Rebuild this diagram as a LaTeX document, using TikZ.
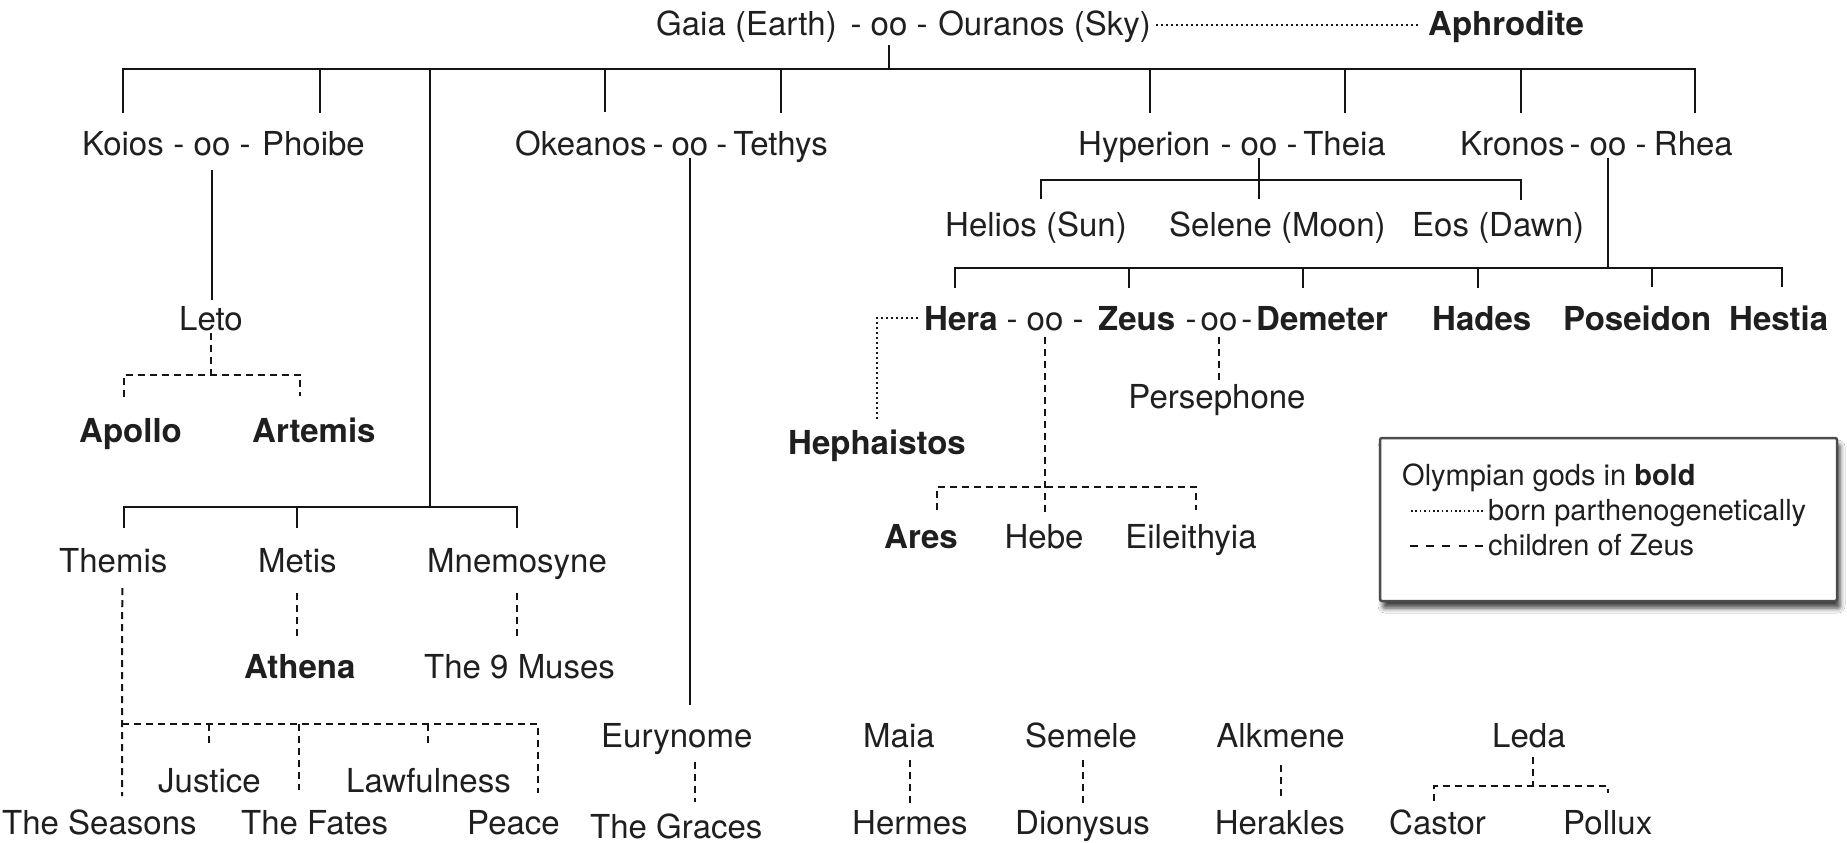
\documentclass[tikz,border=0pt]{standalone}
\usepackage{fontspec}
\setmainfont{TeX Gyre Heros}
\usetikzlibrary{shadows.blur}
\begin{document}
\begin{tikzpicture}[x=1pt,y=-1pt,
  txt/.style={inner sep=0pt,anchor=base west,text=black!88,font=\fontsize{33}{40}\selectfont},
  bld/.style={txt,font=\fontsize{33}{40}\selectfont\bfseries},
  mar/.style={inner sep=0pt,anchor=base,text=black!88,font=\fontsize{33}{40}\selectfont},
  lgd/.style={inner sep=0pt,anchor=base west,text=black!88,font=\fontsize{29}{35}\selectfont},
  ln/.style={line width=2pt,draw=black!92},
  dsh/.style={line width=2pt,draw=black!92,dash pattern=on 7pt off 5pt},
  dtt/.style={line width=2.2pt,draw=black!90,dash pattern=on 2pt off 3pt},
  legbox/.style={draw=black!70,line width=2.5pt,fill=white,rounded corners=2pt,inner sep=0pt,
    blur shadow={shadow xshift=3pt,shadow yshift=-7pt,shadow blur radius=5pt,shadow opacity=75}},
]
\fill[white] (0,0) rectangle (1847,843);
\useasboundingbox (0,0) rectangle (1847,843);

% ---------- row 0
\node[txt] (gaia) at (656,36) {Gaia (Earth)};
\node[mar] (m0) at (889,36) {- oo -};
\node[txt,anchor=base east] (ouranos) at (1151,36) {Ouranos (Sky)};
\node[bld] (aphro) at (1428,36) {Aphrodite};

% ---------- row 1
\node[txt] (koios) at (82,155) {Koios};
\node[mar] (m1) at (212,155) {- oo -};
\node[txt,anchor=base east] (phoibe) at (365,155) {Phoibe};
\node[txt] (okeanos) at (515,155) {Okeanos};
\node[mar] (m2) at (690,155) {-\hspace{8pt}oo\hspace{8pt}-};
\node[txt,anchor=base east] (tethys) at (828,155) {Tethys};
\node[txt] (hyperion) at (1078,155) {Hyperion};
\node[mar] (m3) at (1259,155) {- oo -};
\node[txt,anchor=base east] (theia) at (1386,155) {Theia};
\node[txt] (kronos) at (1460,155) {Kronos};
\node[mar] (m4) at (1608,155) {- oo -};
\node[txt,anchor=base east] (rhea) at (1733,155) {Rhea};

% ---------- Helios row
\node[txt] (helios) at (945,236) {Helios (Sun)};
\node[txt] (selene) at (1169,236) {Selene (Moon)};
\node[txt] (eos) at (1412,236) {Eos (Dawn)};

% ---------- Hera row
\node[txt,anchor=base] (leto) at (211,330) {Leto};
\node[bld] (hera) at (924,330) {Hera};
\node[mar] (m5) at (1045,330) {- oo -};
\node[bld] (zeus) at (1098,330) {Zeus};
\node[mar] (m6) at (1219,330) {-\hspace{4pt}oo\hspace{4pt}-};
\node[bld] (demeter) at (1256,330) {Demeter};
\node[bld] (hades) at (1432,330) {Hades};
\node[bld] (poseidon) at (1563,330) {Poseidon};
\node[bld] (hestia) at (1729,330) {Hestia};

\node[txt,anchor=base] (perse) at (1217,408) {Persephone};
\node[bld] (apollo) at (79,442) {Apollo};
\node[bld] (artemis) at (252,442) {Artemis};
\node[bld,anchor=base] (heph) at (877,454) {Hephaistos};
\node[bld,anchor=base] (ares) at (921,548) {Ares};
\node[txt,anchor=base] (hebe) at (1044,548) {Hebe};
\node[txt,anchor=base] (eile) at (1191,548) {Eileithyia};

\node[txt] (themis) at (59,572) {Themis};
\node[txt] (metis) at (258,572) {Metis};
\node[txt] (mnem) at (427,572) {Mnemosyne};
\node[bld] (athena) at (244,678) {Athena};
\node[txt] (muses) at (424,678) {The 9 Muses};

\node[txt] (eury) at (601,747) {Eurynome};
\node[txt] (maia) at (863,747) {Maia};
\node[txt] (semele) at (1025,747) {Semele};
\node[txt,anchor=base east] (alk) at (1345,747) {Alkmene};
\node[txt] (leda) at (1492,747) {Leda};

\node[txt] (justice) at (158,792) {Justice};
\node[txt] (lawful) at (346,792) {Lawfulness};

\node[txt] (seasons) at (2,834) {The Seasons};
\node[txt] (fates) at (241,834) {The Fates};
\node[txt] (peace) at (467,834) {Peace};
\node[txt] (graces) at (590,838) {The Graces};
\node[txt] (hermes) at (852,834) {Hermes};
\node[txt] (dion) at (1015,834) {Dionysus};
\node[txt,anchor=base east] (herakles) at (1345,834) {Herakles};
\node[txt] (castor) at (1389,834) {Castor};
\node[txt] (pollux) at (1563,834) {Pollux};

% ---------- connectors: top generation
\draw[dtt] ([xshift=5pt,yshift=11pt]ouranos.base east) -- ([xshift=-9pt,yshift=11pt]aphro.base west);
\coordinate (tb) at (889,69);
\draw[ln] ([yshift=-9pt]m0.base) -- (tb);
\draw[ln] ([yshift=18pt]koios.north) |- ([xshift=2pt]rhea.north |- tb) -- ([xshift=2pt,yshift=18pt]rhea.north);
\draw[ln] ([xshift=7pt]phoibe.north |- tb) -- ([xshift=7pt,yshift=18pt]phoibe.north);
\draw[ln] ([xshift=24pt]okeanos.north |- tb) -- ([xshift=24pt,yshift=18pt]okeanos.north);
\draw[ln] (tethys.north |- tb) -- ([yshift=18pt]tethys.north);
\draw[ln] ([xshift=6pt]hyperion.north |- tb) -- ([xshift=6pt,yshift=18pt]hyperion.north);
\draw[ln] (theia.north |- tb) -- ([yshift=18pt]theia.north);
\draw[ln] ([xshift=9pt]kronos.north |- tb) -- ([xshift=9pt,yshift=18pt]kronos.north);

% Themis / Metis / Mnemosyne
\coordinate (thb) at (430,507);
\draw[ln] (thb |- tb) -- (thb);
\draw[ln] ([xshift=11pt,yshift=20pt]themis.north) |- (mnem.north |- thb) -- ([yshift=20pt]mnem.north);
\draw[ln] (metis.north |- thb) -- ([yshift=20pt]metis.north);

% Koios - Phoibe
\draw[ln] ([yshift=-15pt]m1.base) -- ([yshift=6pt]leto.north -| m1.base);
\draw[dsh] ([yshift=-3pt]leto.base) -- ([yshift=-45pt]leto.base);
\draw[dsh] ([xshift=-7pt,yshift=21pt]apollo.north) -- ++(0,-22) -| ([xshift=-14pt,yshift=21pt]artemis.north);

% Okeanos - Tethys
\draw[ln] ([yshift=-3pt]m2.base) -- ([yshift=18pt]eury.north -| m2.base);
\draw[dsh] ([xshift=18pt,yshift=-15pt]eury.base) -- ([xshift=18pt,yshift=11pt]eury.base |- graces.north);

% Hyperion - Theia
\draw[ln] ([yshift=-3pt]m3.base) -- ([yshift=12pt]selene.north -| m3.base);
\draw[ln] ([xshift=5pt,yshift=12pt]helios.north) -- ++(0,-19) -| ([xshift=23pt,yshift=12pt]eos.north);

% Kronos - Rhea
\coordinate (kb) at (1608,268);
\draw[ln] ([yshift=-3pt]m4.base) -- (kb);
\draw[ln] ([xshift=-6pt,yshift=18pt]hera.north) -- ++(0,-20) -| ([xshift=3pt,yshift=18pt]hestia.north);
\draw[ln] ([xshift=-8pt]zeus.north |- kb) -- ([xshift=-8pt,yshift=18pt]zeus.north);
\draw[ln] ([xshift=-19pt]demeter.north |- kb) -- ([xshift=-19pt,yshift=18pt]demeter.north);
\draw[ln] ([xshift=-4pt]hades.north |- kb) -- ([xshift=-4pt,yshift=18pt]hades.north);
\draw[ln] ([xshift=15pt]poseidon.north |- kb) -- ([xshift=15pt,yshift=18pt]poseidon.north);

% Hera -> Hephaistos
\draw[dtt] ([xshift=-6pt,yshift=12pt]hera.base west) -| ([yshift=8pt]heph.north);

% Hera - Zeus children
\draw[dsh] ([yshift=-7pt]m5.base) -- ([yshift=12pt]hebe.north -| m5.base);
\draw[dsh] ([xshift=16pt,yshift=14pt]ares.north) -- ++(0,-23) -| ([xshift=5pt,yshift=14pt]eile.north);

% Zeus - Demeter
\draw[dsh] ([yshift=-7pt]m6.base) -- ([yshift=4pt]perse.north -| m6.base);

% Themis children
\coordinate (fb) at (122,724);
\draw[dsh] ([xshift=9pt,yshift=-16pt]themis.base) -- (fb) -- ([yshift=13pt]seasons.north -| fb);
\draw[dsh] (fb) -| ([xshift=25pt,yshift=17pt]peace.north);
\draw[dsh] (justice.north |- fb) -- ([yshift=23pt]justice.north);
\draw[dsh] ([xshift=-16pt]fates.north |- fb) -- ([xshift=-16pt,yshift=20pt]fates.north);
\draw[dsh] (lawful.north |- fb) -- ([yshift=23pt]lawful.north);

% Metis, Mnemosyne
\draw[dsh] ([yshift=-21pt]metis.base) -- ([yshift=16pt]athena.north -| metis.base);
\draw[dsh] ([yshift=-21pt]mnem.base) -- ([yshift=16pt]muses.north -| mnem.base);

% bottom mothers
\draw[dsh] ([yshift=-13pt]maia.base -| hermes.base) -- ([yshift=7pt]hermes.north);
\draw[dsh] ([yshift=-13pt]semele.base -| dion.base) -- ([yshift=7pt]dion.north);
\draw[dsh] ([yshift=-18pt]alk.base) -- ([yshift=10pt]herakles.north -| alk.base);
\draw[dsh] ([xshift=4pt,yshift=-10pt]leda.base) -- ([xshift=4pt,yshift=-40pt]leda.base);
\draw[dsh] ([xshift=-4pt,yshift=8pt]castor.north) -- ++(0,-15) -| ([yshift=17pt]pollux.north);

% ---------- legend
\node[legbox,minimum width=457pt,minimum height=163pt] (legend) at (1608.5,519.5) {};
\node[lgd] (lg1) at (1402,485) {Olympian gods in \textbf{bold}};
\node[lgd] (lg2) at (1488,520) {born parthenogenetically};
\node[lgd] (lg3) at (1488,555) {children of Zeus};
\draw[dtt,line width=1.8pt,dash pattern=on 1.6pt off 2.8pt] ([xshift=-77pt,yshift=9pt]lg2.base west) -- ([xshift=-5pt,yshift=9pt]lg2.base west);
\draw[line width=1.6pt,draw=black!92,dash pattern=on 8pt off 8.2pt] ([xshift=-78pt,yshift=9pt]lg3.base west) -- ([xshift=-5pt,yshift=9pt]lg3.base west);
\end{tikzpicture}
\end{document}
